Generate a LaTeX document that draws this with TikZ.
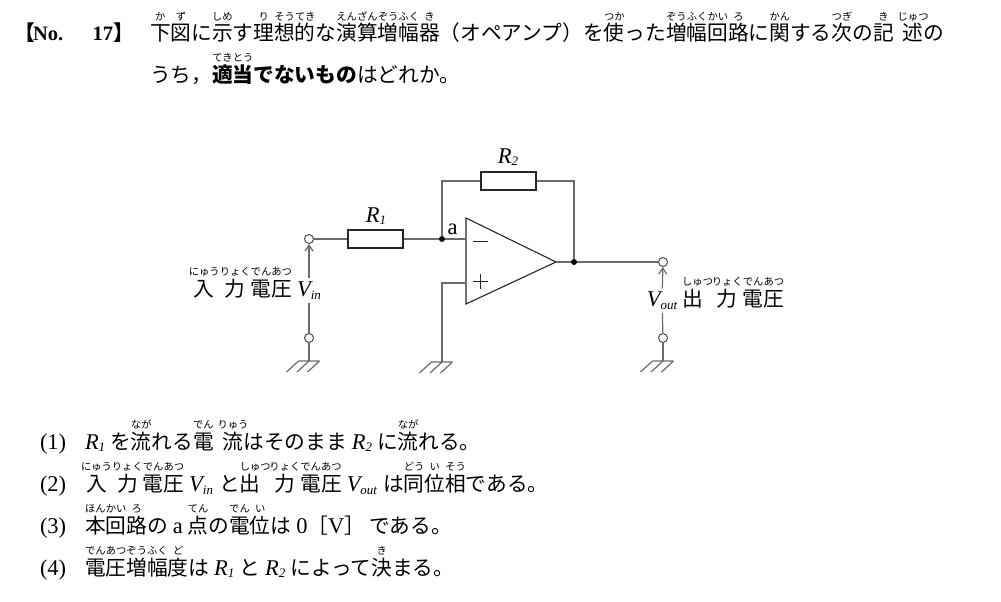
\documentclass[tikz,border=0pt]{standalone}
\usepackage{fontspec}
\setmainfont{Liberation Serif}
\newfontfamily\jp{Noto Sans CJK JP}
\usetikzlibrary{arrows.meta}
\newlength\rbw
\newcommand\rb[2]{\setbox0\hbox{#1}\setbox2\hbox{\fontsize{10.3}{10.3}\selectfont #2}%
\ifdim\wd2>\wd0 \rbw=\wd2 \else \rbw=\wd0 \fi
\hbox to\rbw{\hss\copy0\hss}\kern-\rbw\hbox to\rbw{\hss\raise0.98em\box2\hss}}
\newcommand\rbo[2]{\setbox0\hbox{#1}\setbox2\hbox{\fontsize{10.3}{10.3}\selectfont #2}%
\rbw=\wd0 \copy0\kern-\rbw\hbox to\rbw{\hss\raise0.98em\box2\hss}}
\newcommand\rbl[2]{\setbox0\hbox{#1}\setbox2\hbox{\fontsize{10.3}{10.3}\selectfont #2}%
\rlap{\raise0.98em\box2}\copy0}
\newcommand\lat{\rmfamily\fontsize{22.5}{24}\selectfont}
\newcommand\Rs[1]{{\lat\itshape R\raisebox{-0.25ex}{\fontsize{13}{13}\selectfont #1}}}
\newcommand\Vs[1]{{\lat\itshape V\raisebox{-0.35ex}{\fontsize{13}{13}\selectfont #1}}}
\begin{document}
\begin{tikzpicture}[x=1pt,y=-1pt,
  txt/.style={inner sep=0pt, outer sep=0pt, font=\fontsize{20.7}{24}\selectfont\jp},
  wire/.style={draw=black!58, line width=1.2pt},
  dev/.style={draw=black!85, line width=1.1pt},
  res/.style={dev, rectangle, fill=white, minimum width=55pt, minimum height=18pt, inner sep=0pt},
  term/.style={circle, draw=black!70, line width=1pt, fill=white, minimum size=9pt, inner sep=0pt},
  jdot/.style={circle, fill=black, minimum size=6pt, inner sep=0pt},
  gnd/.pic={\draw[wire] (-10.5,0) -- (10.5,0) (-10.5,0) -- ++(-12,11) (0,0) -- ++(-12,11) (10.5,0) -- ++(-12,11);},
  varrow/.style={wire, -{Straight Barb[length=6pt,width=8pt]}}
]
\useasboundingbox (0,0) rectangle (1001,602);
\fill[white] (0,0) rectangle (1001,602);
% header
\node[txt, anchor=base west] (lbr) at (14,40.5) {\bfseries 【};
\node[txt, anchor=base west, font=\fontsize{20.5}{24}\selectfont] (no) at (33,40.5) {\rmfamily\bfseries No.};
\node[txt, anchor=base east, font=\fontsize{20.5}{24}\selectfont] (num) at (113,40.5) {\rmfamily\bfseries 17};
\node[txt, anchor=base west] (rbr) at (113.5,40.5) {\bfseries 】};
\node[txt, anchor=base west] (h1) at (150,40.5) {\rb{下}{か}\rb{図}{ず}に\rb{示}{しめ}す\rb{理}{り}\rb{想}{そう}\rb{的}{てき}な\rb{演}{えん}\rb{算}{ざん}\rb{増}{ぞう}\rb{幅}{ふく}\rb{器}{き}（オペアンプ）を\rb{使}{つか}った\rb{増}{ぞう}\rb{幅}{ふく}\rb{回}{かい}\rb{路}{ろ}に\rb{関}{かん}する\rb{次}{つぎ}の\rb{記}{き}\hspace{9pt}\rbo{述}{じゅつ}の};
\node[txt, anchor=base west] (h2) at (150,82) {うち，\rb{\bfseries 適}{てき}\rb{\bfseries 当}{とう}{\bfseries でないもの}はどれか。};
% circuit nodes
\node[term] (inT) at (309,239) {};
\node[term] (inB) at (309,338) {};
\coordinate (gA) at (309,361);
\node[res] (R1) at (375.5,239) {};
\node[jdot] (a) at (442,239) {};
\coordinate (om) at (466,239);
\coordinate (op) at (466,283);
\coordinate (oo) at (556,262);
\coordinate (gB) at (442,362);
\node[res] (R2) at (508.5,181) {};
\node[jdot] (out) at (574,262) {};
\node[term] (outT) at (663,262) {};
\node[term] (outB) at (663,338) {};
\coordinate (gC) at (663,361);
% op-amp
\draw[dev] (466,218) -- (oo) -- (466,304) -- cycle;
\draw[dev, line width=0.9pt] (473,241.5) -- (488,241.5);
\draw[dev, line width=0.9pt] (473,281.5) -- (488,281.5) (480.5,274) -- (480.5,289);
% wires
\draw[wire] (inT) -- (R1) -- (a) -- (om);
\draw[wire] (a) -- (a |- R2) -- (R2) -- (R2 -| out) -- (out);
\draw[wire] (oo) -- (out) -- (outT);
\draw[wire] (op) -- (op -| a) -- (gB);
\draw[wire] (inB) -- (gA);
\draw[wire] (outB) -- (gC);
\pic at (gA) {gnd};
\pic at (gB) {gnd};
\pic at (gC) {gnd};
% labels
\node[txt, anchor=base] (l1) at (376,222) {\Rs{1}};
\node[txt, anchor=base] (l2) at (508,163) {\Rs{2}};
\node[txt, anchor=base] (la) at (452.5,234) {\lat a};
\node[txt, anchor=base, inner xsep=1pt, inner ysep=3pt] (vin) at (309,296) {\Vs{in}};
\node[txt, anchor=base east, xshift=-4pt] (jin) at (vin.base west) {\rb{入}{にゅう}\rb{力}{りょく}\rb{電}{でん}\rb{圧}{あつ}};
\draw[wire] (inB) -- (vin);
\draw[varrow] (vin) -- (inT);
\node[txt, anchor=base, inner xsep=1pt, inner ysep=3pt] (vout) at (662,306) {\Vs{out}};
\node[txt, anchor=base west, xshift=4pt] (jout) at (vout.base east) {\rbl{出}{しゅつ}\hspace{9pt}\rb{力}{りょく}\rb{電}{でん}\rb{圧}{あつ}};
\draw[wire] (outB) -- (vout);
\draw[varrow] (vout) -- (outT);
% options
\node[txt, anchor=base west] (n1) at (40,449) {\lat(1)};
\node[txt, anchor=base west] (n2) at (40,491) {\lat(2)};
\node[txt, anchor=base west] (n3) at (40,533) {\lat(3)};
\node[txt, anchor=base west] (n4) at (40,575) {\lat(4)};
\node[txt, anchor=base west] (o1) at (85,449) {\Rs{1}\hspace{5pt}を\rb{流}{なが}れる\rb{電}{でん}\hspace{9pt}\rbo{流}{りゅう}はそのまま\hspace{5pt}\Rs{2}\hspace{5pt}に\rb{流}{なが}れる。};
\node[txt, anchor=base west] (o2) at (81,491) {\rb{入}{にゅう}\rb{力}{りょく}\rb{電}{でん}\rb{圧}{あつ}\hspace{5pt}\Vs{in}\hspace{6pt}と\rbl{出}{しゅつ}\hspace{9pt}\rb{力}{りょく}\rb{電}{でん}\rb{圧}{あつ}\hspace{5pt}\Vs{out}\hspace{6pt}は\rb{同}{どう}\rb{位}{い}\rb{相}{そう}である。};
\node[txt, anchor=base west] (o3) at (85,533) {\rb{本}{ほん}\rb{回}{かい}\rb{路}{ろ}の\hspace{5pt}{\lat a}\hspace{5pt}\rb{点}{てん}の\rb{電}{でん}\rb{位}{い}は\hspace{5pt}{\lat 0}［{\lat V}］\hspace{4pt}である。};
\node[txt, anchor=base west] (o4) at (85,575) {\rb{電}{でん}\rb{圧}{あつ}\rb{増}{ぞう}\rb{幅}{ふく}\rb{度}{ど}は\hspace{5pt}\Rs{1}\hspace{5pt}と\hspace{5pt}\Rs{2}\hspace{5pt}によって\rb{決}{き}まる。};
\end{tikzpicture}
\end{document}
